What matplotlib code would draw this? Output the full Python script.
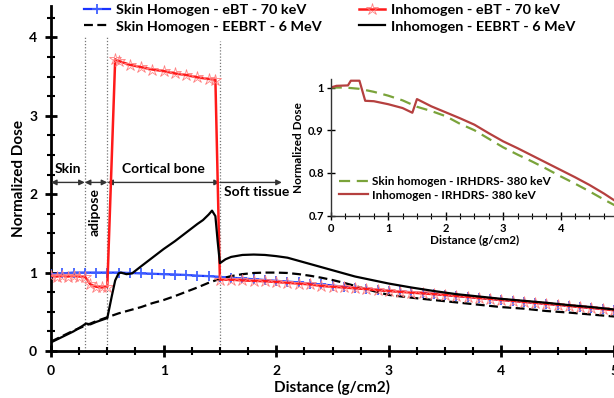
import matplotlib
matplotlib.use("Agg")
import matplotlib.pyplot as plt
from matplotlib.ticker import MultipleLocator

plt.rcParams['font.family'] = ['Lato', 'DejaVu Sans']
plt.rcParams['font.weight'] = 'bold'

# ---------------- main chart data ----------------
red_x = [0.0, 0.05, 0.1, 0.15, 0.2, 0.25, 0.3, 0.35, 0.4, 0.45, 0.5,
         0.57, 0.6, 0.7, 0.8, 0.9, 1.0, 1.1, 1.2, 1.3, 1.4, 1.46,
         1.5, 1.6, 1.7, 1.8, 1.9, 2.0, 2.1, 2.2, 2.3, 2.4, 2.5, 2.6, 2.7, 2.8, 2.9,
         3.0, 3.1, 3.2, 3.3, 3.4, 3.5, 3.6, 3.7, 3.8, 3.9, 4.0, 4.1, 4.2, 4.3, 4.4,
         4.5, 4.6, 4.7, 4.8, 4.9, 5.0]
red_y = [0.96, 0.95, 0.96, 0.95, 0.96, 0.95, 0.95, 0.85, 0.82, 0.81, 0.82,
         3.72, 3.70, 3.65, 3.62, 3.59, 3.57, 3.54, 3.52, 3.49, 3.47, 3.46,
         0.91, 0.91, 0.90, 0.895, 0.89, 0.88, 0.87, 0.86, 0.85, 0.83, 0.82, 0.81, 0.80, 0.79, 0.775,
         0.765, 0.755, 0.745, 0.735, 0.725, 0.715, 0.70, 0.69, 0.675, 0.665, 0.65, 0.64, 0.625, 0.615, 0.60,
         0.59, 0.575, 0.56, 0.55, 0.535, 0.52]

blue_x = [0.0, 0.1, 0.2, 0.3, 0.4, 0.5, 0.6, 0.7, 0.8, 0.9, 1.0, 1.1, 1.2, 1.3, 1.4,
          1.5, 1.6, 1.7, 1.8, 1.9, 2.0, 2.1, 2.2, 2.3, 2.4, 2.5, 2.6, 2.7, 2.8, 2.9,
          3.0, 3.1, 3.2, 3.3, 3.4, 3.5, 3.6, 3.7, 3.8, 3.9, 4.0, 4.1, 4.2, 4.3, 4.4,
          4.5, 4.6, 4.7, 4.8, 4.9, 5.0]
blue_y = [0.98, 0.99, 1.0, 1.0, 1.0, 1.0, 1.0, 0.995, 0.99, 0.985, 0.98, 0.975, 0.97, 0.96, 0.955,
          0.945, 0.935, 0.925, 0.915, 0.905, 0.895, 0.885, 0.875, 0.86, 0.85, 0.835, 0.82, 0.805, 0.795, 0.78,
          0.77, 0.76, 0.75, 0.74, 0.73, 0.715, 0.705, 0.69, 0.68, 0.665, 0.655, 0.64, 0.63, 0.615, 0.605,
          0.59, 0.58, 0.565, 0.55, 0.54, 0.525]

dash_x = [0.0, 0.1, 0.2, 0.3, 0.4, 0.5, 0.6, 0.7, 0.8, 0.9, 1.0, 1.1, 1.2, 1.3, 1.4,
          1.5, 1.6, 1.7, 1.8, 1.9, 2.0, 2.1, 2.2, 2.3, 2.4, 2.5, 2.6, 2.7, 2.8, 2.9,
          3.0, 3.2, 3.4, 3.6, 3.8, 4.0, 4.2, 4.4, 4.6, 4.8, 5.0]
dash_y = [0.12, 0.19, 0.26, 0.32, 0.38, 0.43, 0.48, 0.52, 0.56, 0.61, 0.65, 0.70, 0.755, 0.81, 0.87,
          0.92, 0.955, 0.98, 0.995, 1.0, 1.0, 0.995, 0.98, 0.96, 0.935, 0.905, 0.87, 0.83, 0.79, 0.75,
          0.715, 0.68, 0.65, 0.62, 0.59, 0.56, 0.54, 0.51, 0.49, 0.465, 0.44]

solid_x = [0.0, 0.1, 0.2, 0.28, 0.31, 0.35, 0.4, 0.5, 0.54, 0.57, 0.6, 0.62, 0.67, 0.72,
           0.8, 0.9, 1.0, 1.1, 1.2, 1.3, 1.35, 1.4, 1.43, 1.46, 1.48, 1.5, 1.55,
           1.6, 1.7, 1.8, 1.9, 2.0, 2.1, 2.2, 2.3, 2.4, 2.5, 2.6, 2.7, 2.8, 2.9,
           3.0, 3.2, 3.4, 3.6, 3.8, 4.0, 4.2, 4.4, 4.6, 4.8, 5.0]
solid_y = [0.11, 0.18, 0.25, 0.32, 0.35, 0.34, 0.37, 0.42, 0.70, 0.90, 0.99, 1.0, 0.98, 0.99,
           1.08, 1.19, 1.30, 1.40, 1.51, 1.62, 1.67, 1.74, 1.79, 1.72, 1.40, 1.12, 1.17,
           1.20, 1.225, 1.23, 1.225, 1.21, 1.19, 1.15, 1.11, 1.07, 1.03, 0.99, 0.95, 0.92, 0.89,
           0.86, 0.81, 0.765, 0.725, 0.695, 0.665, 0.64, 0.615, 0.585, 0.56, 0.53]

main_labels = ["Skin Homogen - eBT - 70 keV", "Skin Homogen - EEBRT - 6 MeV",
               "Inhomogen - eBT - 70 keV", "Inhomogen - EEBRT - 6 MeV"]

# tissue boundaries
boundaries = [0.3, 0.5, 1.5]
regions = ["Skin", "adipose", "Cortical bone", "Soft tissue"]

# ---------------- inset data ----------------
green_x = [0.0, 0.25, 0.5, 0.75, 1.0, 1.25, 1.5, 1.75, 2.0, 2.25, 2.5, 2.75, 3.0,
           3.25, 3.5, 3.75, 4.0, 4.25, 4.5, 4.75, 5.0]
green_y = [1.0, 1.0, 0.997, 0.99, 0.981, 0.97, 0.955, 0.945, 0.933, 0.915, 0.9, 0.88, 0.86,
           0.843, 0.827, 0.81, 0.792, 0.775, 0.757, 0.738, 0.72]
brown_x = [0.0, 0.1, 0.3, 0.35, 0.5, 0.6, 0.75, 1.0, 1.25, 1.42, 1.5, 1.75, 2.0, 2.25,
           2.5, 2.75, 3.0, 3.25, 3.5, 3.75, 4.0, 4.25, 4.5, 4.75, 5.0]
brown_y = [1.0, 1.004, 1.005, 1.016, 1.016, 0.969, 0.968, 0.961, 0.952, 0.941, 0.973, 0.956,
           0.942, 0.928, 0.913, 0.893, 0.874, 0.858, 0.841, 0.824, 0.807, 0.79, 0.772, 0.752, 0.73]
inset_labels = ["Skin homogen - IRHDRS- 380 keV", "Inhomogen - IRHDRS- 380 keV"]

# ---------------- figure ----------------
W, H = 614, 398
fig = plt.figure(figsize=(W / 100, H / 100), dpi=100)
ax = fig.add_axes([51 / W, 1 - 351 / H, 563 / W, (351 - 6) / H])

l_blue, = ax.plot(blue_x, blue_y, color='#1a33ff', lw=1.6, marker='+', ms=7, mew=1.3,
                  mec='#4060ff', zorder=3)
l_dash, = ax.plot(dash_x, dash_y, color='black', lw=1.6, ls=(0, (4, 2)), zorder=4)
l_red, = ax.plot(red_x, red_y, color='#ff1a1a', lw=1.8, marker='*', ms=9, mew=0.6,
                 mfc='none', mec='#ff8080', zorder=5)
l_solid, = ax.plot(solid_x, solid_y, color='black', lw=1.6, zorder=6)

for b, top in zip(boundaries, [4.0, 4.0, 3.95]):
    ax.plot([b, b], [0, top], color='#777777', lw=0.9, ls=(0, (1, 1.5)), zorder=1)

ax.set_xlim(0, 5)
ax.set_ylim(0, 4.4)
ax.xaxis.set_major_locator(MultipleLocator(1))
ax.xaxis.set_minor_locator(MultipleLocator(0.25))
ax.yaxis.set_major_locator(MultipleLocator(1))
ax.yaxis.set_minor_locator(MultipleLocator(0.25))
ax.set_yticks([0, 1, 2, 3, 4])
for s in ['top', 'right']:
    ax.spines[s].set_visible(False)
for s in ['left', 'bottom']:
    ax.spines[s].set_linewidth(2.0)
ax.tick_params(which='major', direction='inout', length=8, width=2, labelsize=10, pad=6)
ax.tick_params(which='minor', direction='inout', length=6, width=1.5)
for lab in ax.get_xticklabels() + ax.get_yticklabels():
    lab.set_fontweight('bold')
ax.set_xlabel("Distance (g/cm2)", fontsize=11, fontweight='bold', labelpad=2)
ax.set_ylabel("Normalized Dose", fontsize=11, fontweight='bold', labelpad=2)

# region arrows
y_arr = 2.15
arrow_kw = dict(arrowstyle='<|-|>', color='#333333', lw=1.0, mutation_scale=8,
                shrinkA=0, shrinkB=0)
for x0, x1 in [(0.0, 0.3), (0.3, 0.5), (0.5, 1.5)]:
    ax.annotate('', xy=(x1, y_arr), xytext=(x0, y_arr), arrowprops=arrow_kw)
ax.annotate('', xy=(2.05, y_arr), xytext=(1.5, y_arr),
            arrowprops=dict(arrowstyle='-|>', color='#333333', lw=1.0, mutation_scale=8,
                            shrinkA=0, shrinkB=0))
ax.text(0.15, 2.25, regions[0], ha='center', va='bottom', fontsize=10, fontweight='bold')
ax.text(0.39, 2.08, regions[1], ha='center', va='top', rotation=90, fontsize=10, fontweight='bold')
ax.text(1.0, 2.25, regions[2], ha='center', va='bottom', fontsize=10, fontweight='bold')
ax.text(1.54, 2.1, regions[3], ha='left', va='top', fontsize=10, fontweight='bold')

leg = fig.legend([l_blue, l_dash, l_red, l_solid], main_labels, ncol=2, loc='upper left',
                 bbox_to_anchor=(84 / W, 1 - 4 / H), frameon=False, fontsize=10.4,
                 handlelength=1.8, handletextpad=0.4, columnspacing=2.6, labelspacing=0.3,
                 numpoints=1, borderaxespad=0, borderpad=0)
for t in leg.get_texts():
    t.set_fontweight('bold')

# ---------------- inset ----------------
ins = fig.add_axes([330.7 / W, 1 - 215.7 / H, 287.5 / W, (215.7 - 79) / H])
ins.patch.set_alpha(0)
l_g, = ins.plot(green_x, green_y, color='#7aa33a', lw=1.6, ls=(0, (5, 3)))
l_b, = ins.plot(brown_x, brown_y, color='#b5403f', lw=1.6)
ins.set_xlim(0, 5)
ins.set_ylim(0.7, 1.02)
ins.xaxis.set_major_locator(MultipleLocator(1))
ins.xaxis.set_minor_locator(MultipleLocator(0.25))
ins.set_yticks([0.7, 0.8, 0.9, 1.0])
ins.set_yticklabels(["0.7", "0.8", "0.9", "1"])
for s in ['top', 'right']:
    ins.spines[s].set_visible(False)
for s in ['left', 'bottom']:
    ins.spines[s].set_linewidth(1.0)
    ins.spines[s].set_color('#333333')
ins.tick_params(which='major', direction='inout', length=6, width=1, labelsize=8, pad=2)
ins.tick_params(which='minor', direction='inout', length=4, width=0.8)
for lab in ins.get_xticklabels() + ins.get_yticklabels():
    lab.set_fontweight('bold')
ins.set_xlabel("Distance (g/cm2)", fontsize=8.5, fontweight='bold', labelpad=1)
ins.set_ylabel("Normalized Dose", fontsize=8.5, fontweight='bold', labelpad=3)
ileg = ins.legend([l_g, l_b], inset_labels, loc='lower left', bbox_to_anchor=(0.0, 0.05),
                  frameon=False, fontsize=8.5, handlelength=2.5, handletextpad=0.3,
                  labelspacing=0.2, borderaxespad=0.3)
for t in ileg.get_texts():
    t.set_fontweight('bold')

fig.savefig("out.png", dpi=100)
